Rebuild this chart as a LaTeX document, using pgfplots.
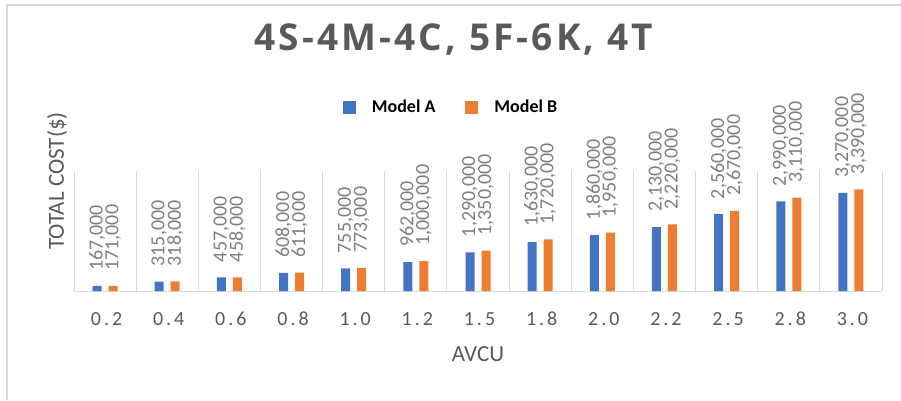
\documentclass[border=0pt]{standalone}
\usepackage{pgfplots}
\pgfplotsset{compat=1.18}
\usepackage{fontspec}
\setmainfont{Carlito}
\newfontfamily\titlefont[LetterSpace=8.5]{Open Sans}
\newfontfamily\tickfont[LetterSpace=15]{Carlito}
\definecolor{mblue}{HTML}{4472C4}
\definecolor{morange}{HTML}{ED7D31}
\definecolor{txtgray}{HTML}{595959}
\definecolor{lblgray}{HTML}{7F7F7F}
\definecolor{gridgray}{HTML}{D9D9D9}
\begin{document}
\begin{tikzpicture}
\path[use as bounding box] (0,0) rectangle (901pt,400pt);
\draw[gridgray, line width=1.2pt] (7pt,0) -- (7pt,395pt) -- (901pt,395pt);
\begin{axis}[
  at={(74pt,109pt)}, anchor=south west,
  scale only axis, width=808pt, height=120pt,
  ymin=0, ymax=4000000,
  xmin=-0.5, xmax=12.5,
  ybar=7pt, bar width=9pt,
  axis x line*=bottom, axis y line*=left,
  axis line style={-},
  x axis line style={gridgray, line width=1pt},
  y axis line style={draw=none},
  ytick=\empty,
  xtick={0,...,12},
  xticklabels={0.2,0.4,0.6,0.8,1.0,1.2,1.5,1.8,2.0,2.2,2.5,2.8,3.0},
  major tick length=0pt, minor tick length=0pt,
  minor xtick={-0.5,0.5,...,12.5},
  xminorgrids=true,
  minor grid style={gridgray, line width=1pt},
  xticklabel style={font=\tickfont\fontsize{20}{20}\selectfont, text=txtgray, anchor=center, yshift=-28pt, xshift=1.5pt},
  xlabel={AVCU},
  xlabel style={at={(axis description cs:0.5,-0.525)}, anchor=center, font=\fontsize{23}{23}\selectfont, text=txtgray},
  ylabel={TOTAL COST(\$)},
  ylabel style={at={(axis description cs:-0.021,0.917)}, anchor=center, font=\fontsize{23}{23}\selectfont, text=txtgray},
  title={4S-4M-4C, 5F-6K, 4T},
  title style={at={(axis description cs:0.470,2.05)}, anchor=center, font=\titlefont\bfseries\fontsize{37}{42}\selectfont, text=txtgray},
  nodes near coords,
  every node near coord/.append style={rotate=90, anchor=west, font=\fontsize{20}{20}\selectfont, text=lblgray, inner xsep=15pt},
  /pgf/number format/.cd, fixed, precision=0, 1000 sep={,}, assume math mode=true,
  /pgfplots/.cd,
  legend image code/.code={\fill[#1] (0pt,-6.5pt) rectangle (13pt,6.5pt);},
  legend style={at={(axis description cs:0.4666,1.533)}, anchor=center, draw=none, fill=none,
    font=\bfseries\fontsize{18}{18}\selectfont, legend columns=2,
    /tikz/every odd column/.append style={column sep=14pt},
    /tikz/every even column/.append style={column sep=28pt}},
]
\addplot[fill=mblue, draw=none] coordinates {
(0,167000) (1,315000) (2,457000) (3,608000) (4,755000) (5,962000) (6,1290000)
(7,1630000) (8,1860000) (9,2130000) (10,2560000) (11,2990000) (12,3270000)};
\addplot[fill=morange, draw=none] coordinates {
(0,171000) (1,318000) (2,458000) (3,611000) (4,773000) (5,1000000) (6,1350000)
(7,1720000) (8,1950000) (9,2220000) (10,2670000) (11,3110000) (12,3390000)};
\legend{Model A, Model B}
\end{axis}
\end{tikzpicture}
\end{document}
